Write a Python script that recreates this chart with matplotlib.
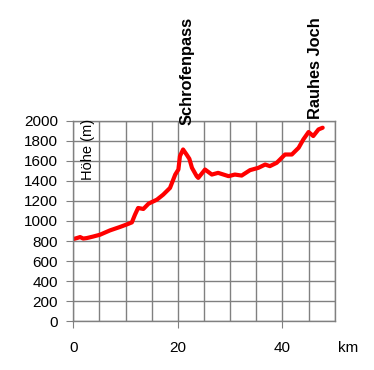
import matplotlib
matplotlib.use("Agg")
import matplotlib.pyplot as plt
from matplotlib.ticker import MultipleLocator

plt.rcParams['font.family'] = ['Liberation Sans', 'DejaVu Sans']

km = [0, 0.7, 1.3, 1.9, 2.6, 3.8, 5.1, 7.0, 8.9, 10.2, 11.2, 11.8, 12.4, 13.4, 14.4, 16.0, 17.2, 18.5,
      19.5, 20.1, 20.4, 21.0, 21.7, 22.2, 22.7, 23.6, 23.9, 25.2, 26.5, 27.7, 29.7, 30.9,
      32.2, 33.8, 35.4, 36.7, 37.6, 38.9, 40.5, 41.8, 43.1, 44.0, 45.0, 45.9, 46.9, 47.7]
hoehe = [820, 830, 840, 825, 830, 845, 863, 906, 940, 965, 986, 1063, 1130, 1120, 1173, 1213, 1263, 1330,
         1463, 1513, 1647, 1713, 1660, 1620, 1530, 1447, 1430, 1513, 1463, 1480, 1447, 1463,
         1453, 1507, 1530, 1563, 1547, 1580, 1663, 1663, 1730, 1813, 1887, 1847, 1913, 1930]
passes = [("Schrofenpass", 21.7, 1953), ("Rauhes Joch", 46.4, 2013)]
x_ticks = [0, 20, 40]
y_ticks = list(range(0, 2001, 200))

W, H = 374, 370
fig = plt.figure(figsize=(W/100, H/100), dpi=100)
ax = fig.add_axes([73.3/W, (H-321.3)/H, 261.4/W, 200.6/H])
grey = '#808080'
ax.set_xlim(0, 50)
ax.set_ylim(0, 2000)
ax.set_xticks(x_ticks)
ax.xaxis.set_minor_locator(MultipleLocator(5))
ax.set_yticks(y_ticks)
ax.grid(True, which='both', color=grey, linewidth=1)
ax.set_axisbelow(True)
for s in ax.spines.values():
    s.set_color(grey)
    s.set_linewidth(1)
ax.tick_params(axis='x', which='major', length=5, color=grey, pad=9, labelsize=11)
ax.tick_params(axis='x', which='minor', length=0)
ax.tick_params(axis='y', length=5, color=grey, pad=6, labelsize=11)

ax.plot(km, hoehe, color='#ff0000', linewidth=3, solid_capstyle='round', solid_joinstyle='round')

ax.text(0.056, 1.01, "Höhe (m)", transform=ax.transAxes, rotation=90,
        ha='center', va='top', fontsize=10.5)
for name, x, y in passes:
    ax.text(x, y, name, rotation=90, ha='center', va='bottom',
            fontsize=11.8, fontweight='bold', clip_on=False)
fig.text(348/W, 1 - 348/H, "km", ha='center', va='center', fontsize=11)

fig.savefig("out.png", dpi=100)
